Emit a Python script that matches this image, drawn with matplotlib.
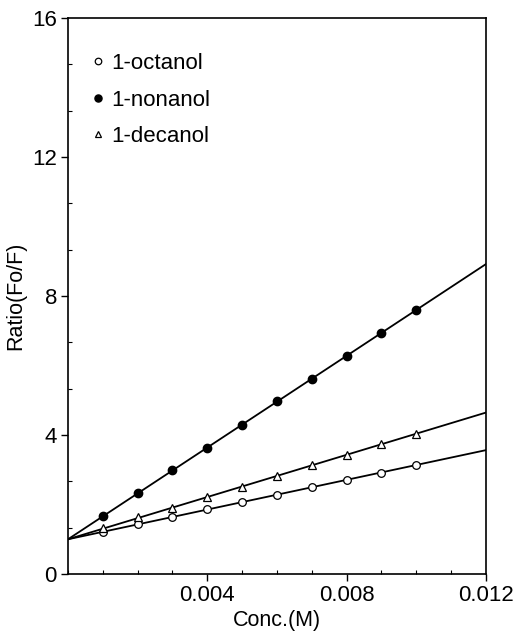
import numpy as np
import matplotlib
matplotlib.use("Agg")
import matplotlib.pyplot as plt
from matplotlib.ticker import MultipleLocator

plt.rcParams['font.family'] = ['Liberation Sans', 'DejaVu Sans']

conc = [0.001, 0.002, 0.003, 0.004, 0.005, 0.006, 0.007, 0.008, 0.009, 0.010]
octanol = [1.22, 1.44, 1.65, 1.87, 2.07, 2.28, 2.49, 2.70, 2.92, 3.14]
nonanol = [1.67, 2.34, 2.99, 3.64, 4.29, 4.98, 5.60, 6.27, 6.94, 7.60]
decanol = [1.33, 1.63, 1.91, 2.23, 2.51, 2.83, 3.15, 3.42, 3.73, 4.02]
intercept = 1.0  # Fo/F at zero concentration

fig = plt.figure(figsize=(5.13, 6.36), dpi=100)
ax = fig.add_axes([0.1326, 0.0975, 0.8144, 0.874])

xfit = np.array([0.0, 0.012])
series = [
    ('1-octanol', octanol, dict(marker='o', mfc='white', mec='black', ms=5.5, mew=0.9)),
    ('1-nonanol', nonanol, dict(marker='o', mfc='black', mec='black', ms=6)),
    ('1-decanol', decanol, dict(marker='^', mfc='white', mec='black', ms=5.5, mew=0.9)),
]
for name, vals, style in series:
    x = np.array(conc)
    y = np.array(vals) - intercept
    slope = np.sum(x * y) / np.sum(x * x)
    ax.plot(xfit, intercept + slope * xfit, color='black', lw=1.3, zorder=2)
    ax.plot(conc, vals, ls='none', label=name, zorder=3, **style)

ax.set_xlim(0, 0.012)
ax.set_ylim(0, 16)
ax.set_xticks([0.004, 0.008, 0.012])
ax.set_xticklabels(['0.004', '0.008', '0.012'])
ax.set_yticks([0, 4, 8, 12, 16])
ax.xaxis.set_minor_locator(MultipleLocator(0.001))
ax.yaxis.set_minor_locator(MultipleLocator(4 / 3))
ax.tick_params(which='major', direction='out', length=5, width=1, labelsize=16, pad=3)
ax.tick_params(which='minor', direction='in', length=3, width=0.8)
ax.tick_params(top=False, right=False)
for s in ax.spines.values():
    s.set_linewidth(1.2)

ax.set_xlabel('Conc.(M)', fontsize=15.5, labelpad=3)
ax.set_ylabel('Ratio(Fo/F)', fontsize=15.5, labelpad=4)

ax.legend(loc='upper left', bbox_to_anchor=(0.035, 0.953), frameon=False,
          fontsize=16, handlelength=0.6, handletextpad=0.3, labelspacing=0.7,
          borderaxespad=0, markerscale=0.85)

fig.savefig('out.png', dpi=100)
